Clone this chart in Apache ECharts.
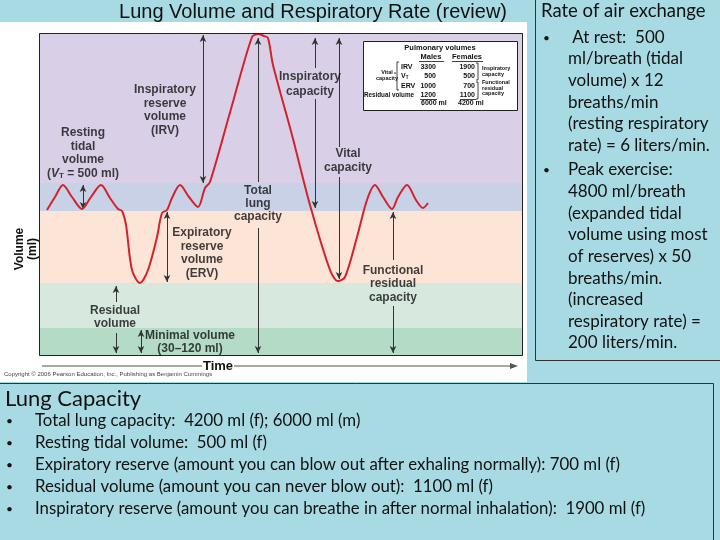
<!DOCTYPE html>
<html><head><meta charset="utf-8">
<script src="https://cdn.jsdelivr.net/npm/echarts@6/dist/echarts.min.js"></script>
<style>html,body{margin:0;padding:0;background:#a7dae3}#c{width:720px;height:540px}</style>
</head><body><div id="c"></div>
<script>
// ---------- data (schematic spirogram, units) ----------
const chartTitle = 'Lung Volume and Respiratory Rate (review)';
const curveTime = [8,16,24,33,43,52,62,71,79,83,87,93,101,109,118,123,128,133,141,150,159,166,171,192,213,219,225,229,234,253,271,291,299,306,318,328,336,344,353,359,368,377,384,389];
const curveVolume = [146,159,171,159,147,159,171,158,147,145,131,86,73,86,119,143,146,158,171,159,149,168,174,247,319,322,320,318,291,221,151,86,75,79,119,156,171,159,147,159,171,156,148,153];
const bandEdges = [0, 28, 73, 145, 173, 323];
const bandNames = ['Minimal volume','Residual volume','Expiratory reserve volume','Tidal volume','Inspiratory reserve volume'];
const pulmRows = ['IRV','VT','ERV','Residual volume'];
const malesMl = [3300, 500, 1000, 1200];
const femalesMl = [1900, 500, 700, 1100];
const rateTitle = 'Rate of air exchange';
const rateLines = [
  ['•',' At rest:  500'],['','ml/breath (tidal'],['','volume) x 12'],['','breaths/min'],
  ['','(resting respiratory'],['','rate) = 6 liters/min.'],
  ['•','Peak exercise:'],['','4800 ml/breath'],['','(expanded tidal'],['','volume using most'],
  ['','of reserves) x 50'],['','breaths/min.'],['','(increased'],['','respiratory rate) ='],['','200 liters/min.']
];
const capTitle = 'Lung Capacity';
const capLines = [
  'Total lung capacity:  4200 ml (f); 6000 ml (m)',
  'Resting tidal volume:  500 ml (f)',
  'Expiratory reserve (amount you can blow out after exhaling normally): 700 ml (f)',
  'Residual volume (amount you can never blow out):  1100 ml (f)',
  'Inspiratory reserve (amount you can breathe in after normal inhalation):  1900 ml (f)'
];

// ---------- layout / style ----------
const G = {left: 39, top: 33, width: 484, height: 323};
const bandColors = ['#b3dbc5','#d7e9de','#fce4d7','#c9d1e7','#d9d0e8'];
const SLIDE_FONT = 'Lato';
const LBL = {fontFamily:'Liberation Sans', fontWeight:'bold', fontSize:12, lineHeight:13.5, color:'#111'};

const arrows = [
  {x:164, a:321, b:173, s:['arrow','arrow']},
  {x:44,  a:171, b:147, s:['arrow','arrow']},
  {x:219, a:318, b:174, s:['arrow','none']},
  {x:219, a:128, b:3,   s:['none','arrow']},
  {x:276, a:318, b:288, s:['arrow','none']},
  {x:276, a:257, b:148, s:['none','arrow']},
  {x:300, a:318, b:209, s:['arrow','none']},
  {x:300, a:179, b:77,  s:['none','arrow']},
  {x:128, a:144, b:74,  s:['arrow','arrow']},
  {x:77,  a:70,  b:54,  s:['arrow','none']},
  {x:77,  a:23,  b:3,   s:['none','arrow']},
  {x:102, a:26,  b:3,   s:['arrow','arrow']},
  {x:354, a:144, b:96,  s:['arrow','none']},
  {x:354, a:50,  b:3,   s:['none','arrow']}
];
const annotations = [
  {x:126, y:246, t:'Inspiratory\nreserve\nvolume\n(IRV)'},
  {x:44,  y:203, t:'Resting\ntidal\nvolume\n{b|(}{i|V}{s|T}{b| = 500 ml)}'},
  {x:271, y:272, t:'Inspiratory\ncapacity', lh:14.5},
  {x:309, y:195, t:'Vital\ncapacity', lh:14},
  {x:219, y:152, t:'Total\nlung\ncapacity', lh:13},
  {x:163, y:103, t:'Expiratory\nreserve\nvolume\n(ERV)'},
  {x:354, y:72,  t:'Functional\nresidual\ncapacity'},
  {x:76,  y:39,  t:'Residual\nvolume'},
  {x:151, y:14,  t:'Minimal volume\n(30–120 ml)', lh:12.5}
];

function txt(x, y, text, font, opt) {
  opt = opt || {};
  return {type:'text', x:x, y:y, z: opt.z || 100, rotation: opt.rot || 0,
    style:{text:text, font:font, fill: opt.fill || '#111',
      align: opt.align || 'left', textAlign: opt.align || 'left',
      verticalAlign: opt.va || 'middle', textVerticalAlign: opt.va || 'middle',
      lineHeight: opt.lh}};
}
function line(x1,y1,x2,y2,stroke,w,z){
  return {type:'line', z: z||100, shape:{x1:x1,y1:y1,x2:x2,y2:y2}, style:{stroke:stroke, lineWidth:w}};
}

const graphics = [];
// white figure panel
graphics.push({type:'rect', z:-1, shape:{x:0,y:22,width:527,height:360}, style:{fill:'#ffffff'}});
// plot border
graphics.push({type:'rect', z:60, shape:{x:G.left+0.5,y:G.top+0.5,width:G.width-1,height:G.height-1}, style:{fill:'none',stroke:'#222',lineWidth:1}});
// title
graphics.push(txt(313, 12, chartTitle, '20px "Liberation Sans"', {align:'center', fill:'#111'}));
// axis labels
graphics.push(txt(26, 249, 'Volume\n(ml)', 'bold 12px "Liberation Sans"', {align:'center', rot:Math.PI/2, lh:13}));
graphics.push(line(42,366,202,366,'#8a8a8a',1.5));
graphics.push(line(234,366,512,366,'#8a8a8a',1.5));
graphics.push({type:'polygon', z:100, shape:{points:[[510,363],[518,366],[510,369]]}, style:{fill:'#555'}});
graphics.push(txt(218, 366, 'Time', 'bold 13px "Liberation Sans"', {align:'center'}));
graphics.push(txt(4, 374, 'Copyright © 2006 Pearson Education, Inc., Publishing as Benjamin Cummings', '6px "Liberation Sans"', {fill:'#444'}));

// pulmonary volumes inset table
const PT = '"Liberation Sans"';
graphics.push({type:'rect', z:90, shape:{x:363.5,y:41.5,width:154,height:69}, style:{fill:'#fff',stroke:'#222',lineWidth:1}});
graphics.push(txt(440, 48, 'Pulmonary volumes', 'bold 7.5px '+PT, {align:'center'}));
graphics.push(txt(431, 57, 'Males', 'bold 7.5px '+PT, {align:'center'}));
graphics.push(txt(467, 57, 'Females', 'bold 7.5px '+PT, {align:'center'}));
graphics.push(line(419,61.5,444,61.5,'#111',0.8));
graphics.push(line(452,61.5,483,61.5,'#111',0.8));
const rowY = [67, 76.5, 86, 95];
pulmRows.forEach(function(r, i){
  const lab = r === 'VT' ? '{v|V}{t|T}' : r;
  const isRV = r === 'Residual volume';
  graphics.push({type:'text', z:100, x: isRV ? 414 : 401, y: rowY[i], style:{
    text: lab, font:(isRV ? 'bold 6.3px ' : 'bold 7px ')+PT, fill:'#111',
    align: isRV ? 'right' : 'left', textAlign: isRV ? 'right' : 'left',
    verticalAlign:'middle', textVerticalAlign:'middle',
    rich:{v:{font:'bold 7px '+PT, fill:'#111'}, t:{font:'bold 4.5px '+PT, fill:'#111', padding:[3,0,0,0]}}}});
  graphics.push(txt(436, rowY[i], String(malesMl[i]), 'bold 7px '+PT, {align:'right'}));
  graphics.push(txt(475, rowY[i], String(femalesMl[i]), 'bold 7px '+PT, {align:'right'}));
});
graphics.push(line(420,99.5,437,99.5,'#111',0.8));
graphics.push(line(460,99.5,476,99.5,'#111',0.8));
graphics.push(txt(421, 103, String(malesMl.reduce(function(a,b){return a+b;},0)) + ' ml', 'bold 7px '+PT));
graphics.push(txt(458, 103, String(femalesMl.reduce(function(a,b){return a+b;},0)) + ' ml', 'bold 7px '+PT));
graphics.push(txt(387, 75.5, 'Vital\ncapacity', 'bold 5.5px '+PT, {align:'center', lh:6.5}));
graphics.push({type:'polyline', z:100, shape:{points:[[399,62],[397,62],[397,90],[399,90]]}, style:{stroke:'#111',lineWidth:0.8,fill:'none'}});
graphics.push(line(394,73,396,73,'#111',0.8));
graphics.push({type:'polyline', z:100, shape:{points:[[476,63],[478,63],[478,80],[476,80]]}, style:{stroke:'#111',lineWidth:0.8,fill:'none'}});
graphics.push({type:'polyline', z:100, shape:{points:[[476,82],[478,82],[478,99],[476,99]]}, style:{stroke:'#111',lineWidth:0.8,fill:'none'}});
graphics.push(txt(482, 71.5, 'Inspiratory\ncapacity', 'bold 5.5px '+PT, {lh:6}));
graphics.push(txt(482, 88, 'Functional\nresidual\ncapacity', 'bold 5.5px '+PT, {lh:5.5}));

// right text box
graphics.push({type:'rect', z:10, shape:{x:535.5,y:-5,width:200,height:365.5}, style:{fill:'none',stroke:'#333',lineWidth:1}});
graphics.push(txt(541, 11, rateTitle, '18.5px '+SLIDE_FONT, {fill:'#111'}));
rateLines.forEach(function(l, i){
  const y = [38,59,81,103,124,146,170,192,214,235,257,279,300,322,343][i];
  if (l[0]) graphics.push(txt(543, y, l[0], '12px '+SLIDE_FONT));
  graphics.push(txt(568, y, l[1], '17px '+SLIDE_FONT));
});

// bottom text box
graphics.push({type:'rect', z:10, shape:{x:-5,y:383.5,width:718.5,height:170}, style:{fill:'none',stroke:'#333',lineWidth:1}});
graphics.push(txt(5, 399, capTitle, '22px '+SLIDE_FONT));
capLines.forEach(function(l, i){
  const y = 421 + 22*i;
  graphics.push(txt(6, y, '•', '12px '+SLIDE_FONT));
  graphics.push(txt(35, y, l, '16.8px '+SLIDE_FONT));
});

const chart = echarts.init(document.getElementById('c'));
chart.setOption({
  backgroundColor: '#a7dae3',
  animation: false,
  grid: {left:G.left, top:G.top, width:G.width, height:G.height, show:false},
  xAxis: {type:'value', min:0, max:484, show:false},
  yAxis: {type:'value', min:0, max:323, show:false},
  graphic: graphics,
  series: [
    {
      type:'line', data:[], silent:true,
      markArea: {silent:true, data: bandNames.map(function(n, i){
        return [{name:n, yAxis:bandEdges[i], itemStyle:{color:bandColors[i]}}, {yAxis:bandEdges[i+1]}];
      }), label:{show:false}}
    },
    {
      type:'line', data:[], silent:true, z:4,
      markLine: {silent:true, animation:false, symbolSize:[5,7], label:{show:false},
        lineStyle:{color:'#333', width:1, type:'solid'},
        data: arrows.map(function(a){
          return [{coord:[a.x, a.a], symbol:a.s[0]}, {coord:[a.x, a.b], symbol:a.s[1]}];
        })}
    },
    {
      type:'line', name:'Volume', z:5, smooth:0.3, showSymbol:false, silent:true,
      lineStyle:{color:'#d4222c', width:2},
      data: curveTime.map(function(t, i){ return [t, curveVolume[i]]; })
    },
    {
      type:'scatter', symbolSize:0, silent:true, z:8,
      data: annotations.map(function(a){
        return {value:[a.x, a.y], label:{show:true, position:'inside', formatter:a.t,
          fontFamily:LBL.fontFamily, fontWeight:LBL.fontWeight, fontSize:LBL.fontSize,
          lineHeight:a.lh || LBL.lineHeight, color:LBL.color, align:'center',
          rich:{b:{fontFamily:LBL.fontFamily, fontWeight:'bold', fontSize:12, color:'#111', lineHeight:13.5},
                i:{fontFamily:LBL.fontFamily, fontWeight:'bold', fontStyle:'italic', fontSize:12, color:'#111', lineHeight:13.5},
                s:{fontFamily:LBL.fontFamily, fontWeight:'bold', fontSize:8, color:'#111', lineHeight:13.5, padding:[6,0,0,0]}}}};
      })
    }
  ]
});
</script></body></html>
